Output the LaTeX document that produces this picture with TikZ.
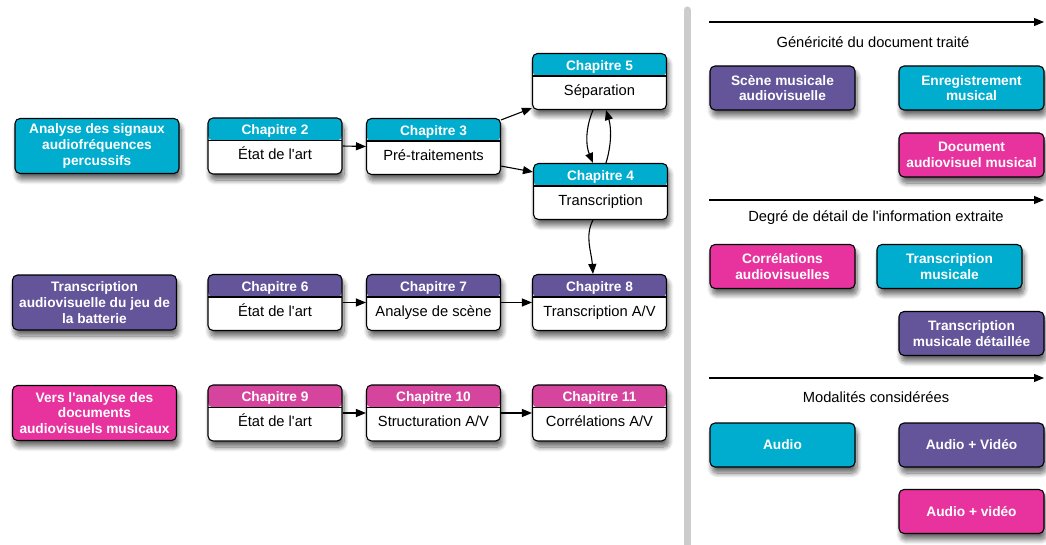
\documentclass[tikz,border=0pt]{standalone}
\usepackage{fontspec}
\setmainfont{Liberation Sans}[Ligatures=TeXOff]
\usetikzlibrary{arrows.meta,shadows.blur}
\definecolor{cy}{RGB}{0,173,206}
\definecolor{pu}{RGB}{100,84,154}
\definecolor{mg}{RGB}{232,51,158}
\definecolor{mgh}{RGB}{214,69,157}
\definecolor{barc}{RGB}{204,204,204}
\newcommand\chapbox[6]{%
  \node[chap, hdr=#4] (#1) at (#2,#3) {};
  \node[chaptitle] (#1t) at ([yshift=-17.5pt]#1.north) {#5};
  \node[chapbody] (#1b) at ([yshift=14.7pt]#1.south) {#6};
}
\begin{document}
\begin{tikzpicture}[x=1pt,y=-1pt,
  shad/.style={blur shadow={shadow xshift=2pt,shadow yshift=-6pt,shadow blur radius=5pt,shadow blur steps=10,shadow opacity=60}},
  base/.style={draw=black,line width=1.1pt,rounded corners=5pt,shad,inner sep=0pt},
  cbox/.style={base,fill=#1,text=white,align=center,font=\fontsize{13.7}{15.7}\selectfont\bfseries},
  lbox/.style={cbox=#1,minimum width=164pt,minimum height=55pt},
  rbox/.style={cbox=#1,minimum width=145pt,minimum height=44pt},
  chap/.style={base,fill=white,minimum width=134pt,minimum height=56pt},
  hdr/.style={path picture={\fill[#1] (path picture bounding box.north west) rectangle ([yshift=-22.5pt]path picture bounding box.north east);
     \draw[line width=1.1pt] ([yshift=-22.5pt]path picture bounding box.north west) -- ([yshift=-22.5pt]path picture bounding box.north east);}},
  chaptitle/.style={anchor=base,inner sep=0pt,text=white,font=\fontsize{13.7}{15}\selectfont\bfseries},
  chapbody/.style={anchor=base,inner sep=0pt,font=\fontsize{14.7}{16}\selectfont},
  captxt/.style={inner sep=0pt,font=\fontsize{14.7}{16}\selectfont},
  conn/.style={line width=1.1pt,-{Triangle[length=10pt,width=8pt]}}
]
\useasboundingbox (0,0) rectangle (1046,545);

% separator bar
\coordinate (bt) at (687,10);
\coordinate (bb) at (687,548);
\draw[barc,line width=7pt,line cap=round] (bt) -- (bb);

% left column
\node[lbox=cy] (a1) at (97,146) {Analyse des signaux\\audiofréquences\\percussifs};
\node[lbox=pu] (a2) at (94.5,302.5) {Transcription\\audiovisuelle du jeu de\\la batterie};
\node[lbox=mg] (a3) at (94.5,413) {Vers l'analyse des\\documents\\audiovisuels musicaux};

% chapters
\chapbox{ch2}{275}{146}{cy}{Chapitre 2}{État de l'art}
\chapbox{ch3}{433.5}{146.5}{cy}{Chapitre 3}{Pré-traitements}
\chapbox{ch5}{599.5}{81.5}{cy}{Chapitre 5}{Séparation}
\chapbox{ch4}{600.5}{191.5}{cy}{Chapitre 4}{Transcription}
\chapbox{ch6}{275}{302.5}{pu}{Chapitre 6}{État de l'art}
\chapbox{ch7}{433.5}{302.5}{pu}{Chapitre 7}{Analyse de scène}
\chapbox{ch8}{599.5}{302.5}{pu}{Chapitre 8}{Transcription A/V}
\chapbox{ch9}{275}{413}{mgh}{Chapitre 9}{État de l'art}
\chapbox{ch10}{433.5}{413}{mgh}{Chapitre 10}{Structuration A/V}
\chapbox{ch11}{599.5}{413}{mgh}{Chapitre 11}{Corrélations A/V}

% connectors
\draw[conn] (ch2.east) -- (ch3.west);
\draw[conn] ([yshift=-2pt]ch3.north east) -- ([yshift=2pt]ch5.south west);
\draw[conn] ([yshift=9pt]ch3.south east) -- ([yshift=-9pt]ch4.north west);
\draw[conn] ([xshift=-6.5pt]ch5.south) .. controls ([xshift=-14pt,yshift=-18pt]ch5.south) and ([xshift=-15pt,yshift=18pt]ch4.north) .. ([xshift=-7.5pt]ch4.north);
\draw[conn] ([xshift=5.5pt]ch4.north) .. controls ([xshift=11pt,yshift=18pt]ch4.north) and ([xshift=12pt,yshift=-18pt]ch5.south) .. ([xshift=6.5pt]ch5.south);
\draw[conn] ([xshift=-7.5pt]ch4.south) .. controls ([xshift=-16pt,yshift=-16pt]ch4.south) and ([xshift=-8pt,yshift=22pt]ch8.north) .. ([xshift=-6.5pt]ch8.north);
\draw[conn] (ch6.east) -- (ch7.west);
\draw[conn] (ch7.east) -- (ch8.west);
\draw[conn] (ch9.east) -- (ch10.west);
\draw[conn] (ch10.east) -- (ch11.west);

% right side axes
\coordinate (r1a) at (709,22);  \coordinate (r1b) at (1044,22);
\coordinate (r2a) at (709,200); \coordinate (r2b) at (1044,200);
\coordinate (r3a) at (709,378); \coordinate (r3b) at (1044,378);
\draw[conn] (r1a) -- (r1b);
\draw[conn] (r2a) -- (r2b);
\draw[conn] (r3a) -- (r3b);
\node[captxt] (c1) at (873,42) {Généricité du document traité};
\node[captxt] (c2) at (876,218) {Degré de détail de l'information extraite};
\node[captxt] (c3) at (876,397) {Modalités considérées};

\node[rbox=pu] (s1) at (782.5,88) {Scène musicale\\audiovisuelle};
\node[rbox=cy] (s2) at (971.5,88) {Enregistrement\\musical};
\node[rbox=mg] (s3) at (971.5,155) {Document\\audiovisuel musical};
\node[rbox=mg] (d1) at (782.5,266.5) {Corrélations\\audiovisuelles};
\node[rbox=cy] (d2) at (949.5,266.5) {Transcription\\musicale};
\node[rbox=pu] (d3) at (971.5,333.5) {Transcription\\musicale détaillée};
\node[rbox=cy] (m1) at (782.5,445) {Audio};
\node[rbox=pu] (m2) at (971.5,445) {Audio + Vidéo};
\node[rbox=mg] (m3) at (971.5,511.5) {Audio + vidéo};
\end{tikzpicture}
\end{document}
